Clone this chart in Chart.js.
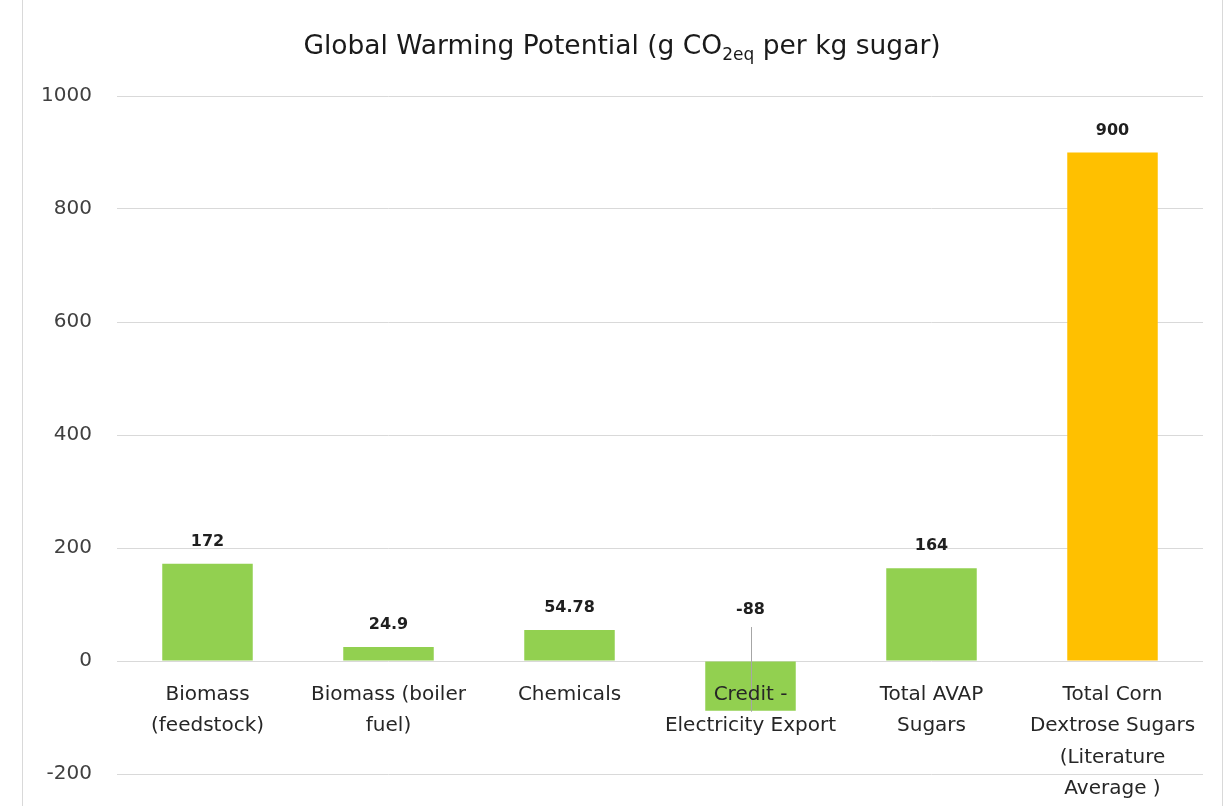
<!DOCTYPE html>
<html>
<head>
<meta charset="utf-8">
<script src="https://cdn.jsdelivr.net/npm/chart.js@4.4.1/dist/chart.umd.min.js"></script>
<style>
  html, body { margin: 0; padding: 0; background: #fff; overflow: hidden; }
  #wrap { position: relative; width: 1230px; height: 806px; }
</style>
</head>
<body>
<div id="wrap"><canvas id="gwp"></canvas></div>
<script>
// Global warming potential contributions, g CO2eq per kg sugar
const categories = [
  ['Biomass', '(feedstock)'],
  ['Biomass (boiler', 'fuel)'],
  ['Chemicals'],
  ['Credit -', 'Electricity Export'],
  ['Total AVAP', 'Sugars'],
  ['Total Corn', 'Dextrose Sugars', '(Literature', 'Average )']
];
const values = [172, 24.9, 54.78, -88, 164, 900];
const yTicks = [-200, 0, 200, 400, 600, 800, 1000];

const FONT = "'DejaVu Sans', 'Liberation Sans', sans-serif";
const GREEN = '#92D050';
const ORANGE = '#FFC000';

// white background and the thin frame at both sides
const chartFrame = {
  id: 'chartFrame',
  beforeDraw(chart) {
    const { ctx, width, height } = chart;
    ctx.save();
    ctx.fillStyle = '#ffffff';
    ctx.fillRect(0, 0, width, height);
    ctx.strokeStyle = '#d9d9d9';
    ctx.lineWidth = 1;
    ctx.beginPath();
    ctx.moveTo(22.5, 0); ctx.lineTo(22.5, height);
    ctx.moveTo(1222.5, 0); ctx.lineTo(1222.5, height);
    ctx.stroke();
    ctx.restore();
  }
};

// title with subscripted "2eq"
const subscriptTitle = {
  id: 'subscriptTitle',
  afterDraw(chart) {
    const { ctx } = chart;
    const parts = [
      { t: 'Global Warming Potential (g CO', size: 26.5, dy: 0 },
      { t: '2eq', size: 17, dy: 6 },
      { t: ' per kg sugar)', size: 26.5, dy: 0 }
    ];
    ctx.save();
    ctx.fillStyle = '#1a1a1a';
    ctx.textBaseline = 'alphabetic';
    ctx.textAlign = 'left';
    let total = 0;
    parts.forEach(p => { ctx.font = `${p.size}px ${FONT}`; p.w = ctx.measureText(p.t).width; total += p.w; });
    let x = 622 - total / 2;
    const base = 54;
    parts.forEach(p => {
      ctx.font = `${p.size}px ${FONT}`;
      ctx.fillText(p.t, x, base + p.dy);
      x += p.w;
    });
    ctx.restore();
  }
};

// bold value labels; a negative bar gets its label above the axis with a leader line
const valueLabels = {
  id: 'valueLabels',
  afterDatasetsDraw(chart) {
    const { ctx } = chart;
    const yScale = chart.scales.y;
    const zero = yScale.getPixelForValue(0);
    const meta = chart.getDatasetMeta(0);
    ctx.save();
    ctx.font = `bold 16px ${FONT}`;
    ctx.fillStyle = '#1f1f1f';
    ctx.textAlign = 'center';
    ctx.textBaseline = 'middle';
    meta.data.forEach((bar, i) => {
      const v = values[i];
      const label = String(v);
      if (v >= 0) {
        ctx.fillText(label, bar.x, bar.y - 22);
      } else {
        const ly = zero - 51;
        ctx.fillText(label, bar.x, ly);
        const lx = Math.round(bar.x) + 0.5;
        ctx.strokeStyle = '#a6a6a6';
        ctx.lineWidth = 1;
        ctx.beginPath();
        ctx.moveTo(lx, ly + 17);
        ctx.lineTo(lx, bar.y + 1);
        ctx.stroke();
      }
    });
    ctx.restore();
  }
};

new Chart(document.getElementById('gwp'), {
  type: 'bar',
  data: {
    labels: categories,
    datasets: [{
      data: values,
      backgroundColor: ctx => (ctx.dataIndex === values.length - 1 ? ORANGE : GREEN),
      borderWidth: 0,
      categoryPercentage: 1,
      barPercentage: 0.5
    }]
  },
  options: {
    responsive: true,
    maintainAspectRatio: false,
    animation: false,
    events: [],
    layout: { padding: { left: 0, right: 27, top: 96, bottom: 32 } },
    plugins: {
      legend: { display: false },
      title: { display: false },
      tooltip: { enabled: false }
    },
    scales: {
      x: {
        position: { y: 0 },
        offset: true,
        grid: { display: false, drawTicks: false },
        border: { display: false },
        ticks: {
          z: 1,
          autoSkip: false,
          maxRotation: 0,
          minRotation: 0,
          padding: 18,
          color: '#262626',
          font: { family: FONT, size: 20, lineHeight: 1.57 }
        }
      },
      y: {
        min: yTicks[0],
        max: yTicks[yTicks.length - 1],
        afterFit(scale) {
          scale.width = 117;
          scale.paddingTop = 0;
          scale.paddingBottom = 0;
        },
        afterBuildTicks(scale) { scale.ticks = yTicks.map(v => ({ value: v })); },
        grid: { color: '#d9d9d9', lineWidth: 1, drawTicks: false },
        border: { display: false },
        ticks: {
          padding: 25,
          color: '#404040',
          font: { family: FONT, size: 20 },
          callback: v => String(v)
        }
      }
    }
  },
  plugins: [chartFrame, subscriptTitle, valueLabels]
});
</script>
</body>
</html>
